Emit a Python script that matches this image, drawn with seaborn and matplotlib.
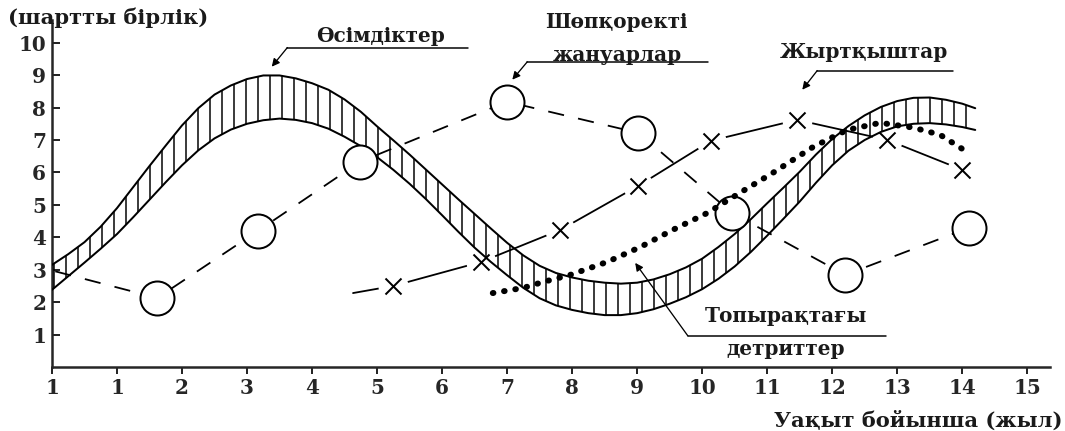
import matplotlib
matplotlib.use("Agg")
import matplotlib.pyplot as plt
import seaborn as sns

# --- data (x = tick position index, y = units) ---
x_tick_labels = ["1", "1", "2", "3", "4", "5", "6", "7", "8", "9",
                 "10", "11", "12", "13", "14", "15"]
y_ticks = [1, 2, 3, 4, 5, 6, 7, 8, 9, 10]

# plants: hatched band between two curves
veg_x = [0, 0.25, 0.5, 0.75, 1.0, 1.25, 1.5, 1.75, 2.0, 2.25, 2.5, 2.75, 3.0,
         3.25, 3.5, 3.75, 4.0, 4.25, 4.5, 4.75, 5.0, 5.25, 5.5, 5.75, 6.0, 6.25,
         6.5, 6.75, 7.0, 7.25, 7.5, 7.75, 8.0, 8.25, 8.5, 8.75, 9.0, 9.25, 9.5,
         9.75, 10.0, 10.25, 10.5, 10.75, 11.0, 11.25, 11.5, 11.75, 12.0, 12.25,
         12.5, 12.75, 13.0, 13.25, 13.5, 13.75, 14.0, 14.2]
veg_upper = [3.15, 3.48, 3.85, 4.33, 4.9, 5.55, 6.2, 6.83, 7.45, 7.98, 8.4, 8.68,
             8.88, 8.99, 8.99, 8.9, 8.75, 8.55, 8.25, 7.87, 7.42, 6.99, 6.55, 6.09,
             5.63, 5.17, 4.72, 4.27, 3.83, 3.44, 3.12, 2.9, 2.76, 2.66, 2.6, 2.57,
             2.6, 2.7, 2.86, 3.07, 3.34, 3.7, 4.1, 4.56, 5.05, 5.53, 6.02, 6.55,
             7.03, 7.43, 7.76, 8.02, 8.2, 8.3, 8.31, 8.24, 8.12, 7.98]
veg_lower = [2.38, 2.8, 3.22, 3.65, 4.1, 4.62, 5.16, 5.7, 6.22, 6.68, 7.05, 7.32,
             7.5, 7.61, 7.66, 7.62, 7.52, 7.35, 7.1, 6.81, 6.47, 6.08, 5.65, 5.18,
             4.68, 4.17, 3.68, 3.24, 2.83, 2.44, 2.12, 1.9, 1.76, 1.66, 1.6, 1.6,
             1.66, 1.78, 1.95, 2.15, 2.4, 2.72, 3.1, 3.55, 4.05, 4.57, 5.1, 5.68,
             6.22, 6.67, 7.0, 7.25, 7.42, 7.5, 7.52, 7.48, 7.4, 7.31]

# herbivores (first point is the line start, no marker)
herb_x = [0.05, 1.62, 3.17, 4.74, 7.0, 9.02, 10.46, 12.2, 14.1]
herb_y = [2.95, 2.13, 4.2, 6.33, 8.18, 7.22, 4.75, 2.84, 4.29]

# predators (first point is the line start, no marker)
pred_x = [4.63, 5.25, 6.6, 7.82, 9.02, 10.14, 11.46, 12.85, 14.0]
pred_y = [2.28, 2.5, 3.24, 4.23, 5.59, 6.98, 7.62, 7.0, 6.08]

# soil detritus
detr_x = [6.78, 7.25, 7.55, 7.97, 8.54, 9.05, 9.55, 10.08, 10.58, 11.09, 11.71,
          12.23, 12.74, 13.25, 13.66, 14.02]
detr_y = [2.28, 2.44, 2.62, 2.84, 3.24, 3.7, 4.23, 4.75, 5.37, 5.99, 6.79,
          7.31, 7.53, 7.38, 7.16, 6.7]

sns.set_style("ticks")
plt.rcParams["font.family"] = ["DejaVu Serif"]
plt.rcParams["hatch.linewidth"] = 1.5

fig, ax = plt.subplots(figsize=(1065 / 72, 431 / 72), dpi=72)
fig.subplots_adjust(left=52 / 1065, right=1050 / 1065, bottom=64 / 431, top=411 / 431)

# plants band
ax.fill_between(veg_x, veg_lower, veg_upper, facecolor="none", edgecolor="black",
                hatch="|", linewidth=0, zorder=4)
sns.lineplot(x=veg_x, y=veg_upper, color="black", lw=2, sort=False, estimator=None,
             ax=ax, zorder=4)
sns.lineplot(x=veg_x, y=veg_lower, color="black", lw=2, sort=False, estimator=None,
             ax=ax, zorder=4)

# herbivores
sns.lineplot(x=herb_x, y=herb_y, color="black", lw=1.8, linestyle=(0, (9, 8)),
             sort=False, estimator=None, ax=ax, zorder=3)
sns.scatterplot(x=herb_x[1:], y=herb_y[1:], s=34 ** 2, color="white",
                edgecolor="black", linewidth=2, ax=ax, zorder=5)

# predators
sns.lineplot(x=pred_x, y=pred_y, color="black", lw=1.8, sort=False, estimator=None,
             ax=ax, zorder=3)
sns.scatterplot(x=pred_x[1:], y=pred_y[1:], s=30 ** 2, color="white", linewidth=0,
                ax=ax, zorder=3.5)
sns.scatterplot(x=pred_x[1:], y=pred_y[1:], s=16 ** 2, marker="x", color="black",
                linewidth=2, ax=ax, zorder=5)

# detritus
sns.lineplot(x=detr_x, y=detr_y, color="black", lw=6, linestyle=(0, (0.1, 1.8)),
             dash_capstyle="round", sort=False, estimator=None, ax=ax, zorder=5)

# axes
ax.set_xlim(0, 15.35)
ax.set_ylim(0, 10.7)
ax.set_xticks(range(len(x_tick_labels)))
ax.set_xticklabels(x_tick_labels)
ax.set_yticks(y_ticks)
ax.set_xlabel("")
ax.set_ylabel("")
sns.despine(ax=ax)
for side in ["left", "bottom"]:
    ax.spines[side].set_linewidth(2.5)
ax.tick_params(axis="y", direction="in", length=8, width=2, pad=6, labelsize=20)
ax.tick_params(axis="x", direction="out", length=7, width=2, pad=4, labelsize=20)
for lab in ax.get_xticklabels() + ax.get_yticklabels():
    lab.set_fontweight("bold")

# annotations
txt = dict(fontsize=20, fontweight="bold", ha="center", va="center", color="#1a1a1a")
arrow = dict(arrowstyle="-|>", color="black", lw=1.3, mutation_scale=16,
             shrinkA=0, shrinkB=0)

ax.text(5.05, 10.22, "Өсімдіктер", **txt)
ax.plot([3.62, 6.4], [9.85, 9.85], color="black", lw=1.5, clip_on=False)
ax.annotate("", xy=(3.38, 9.26), xytext=(3.62, 9.85), arrowprops=arrow)

ax.text(8.68, 10.65, "Шөпқоректі", **txt)
ax.text(8.69, 9.63, "жануарлар", **txt)
ax.plot([7.31, 10.09], [9.41, 9.41], color="black", lw=1.5, clip_on=False)
ax.annotate("", xy=(7.08, 8.86), xytext=(7.31, 9.41), arrowprops=arrow)

ax.text(12.49, 9.72, "Жыртқыштар", **txt)
ax.plot([11.77, 13.86], [9.14, 9.14], color="black", lw=1.5, clip_on=False)
ax.annotate("", xy=(11.54, 8.55), xytext=(11.77, 9.14), arrowprops=arrow)

ax.text(11.29, 1.57, "Топырақтағы", **txt)
ax.text(11.29, 0.56, "детриттер", **txt)
ax.plot([9.78, 12.82], [0.96, 0.96], color="black", lw=1.5, clip_on=False)
ax.annotate("", xy=(8.97, 3.21), xytext=(9.78, 0.96), arrowprops=arrow)

fig.text(8 / 1065, 1 - 18 / 431, "(шартты бірлік)", fontsize=21, fontweight="bold",
         ha="left", va="center", color="#1a1a1a")
fig.text(1063 / 1065, 1 - 421 / 431, "Уақыт бойынша (жыл)", fontsize=21,
         fontweight="bold", ha="right", va="center", color="#1a1a1a")

fig.savefig("out.png", dpi=72)
